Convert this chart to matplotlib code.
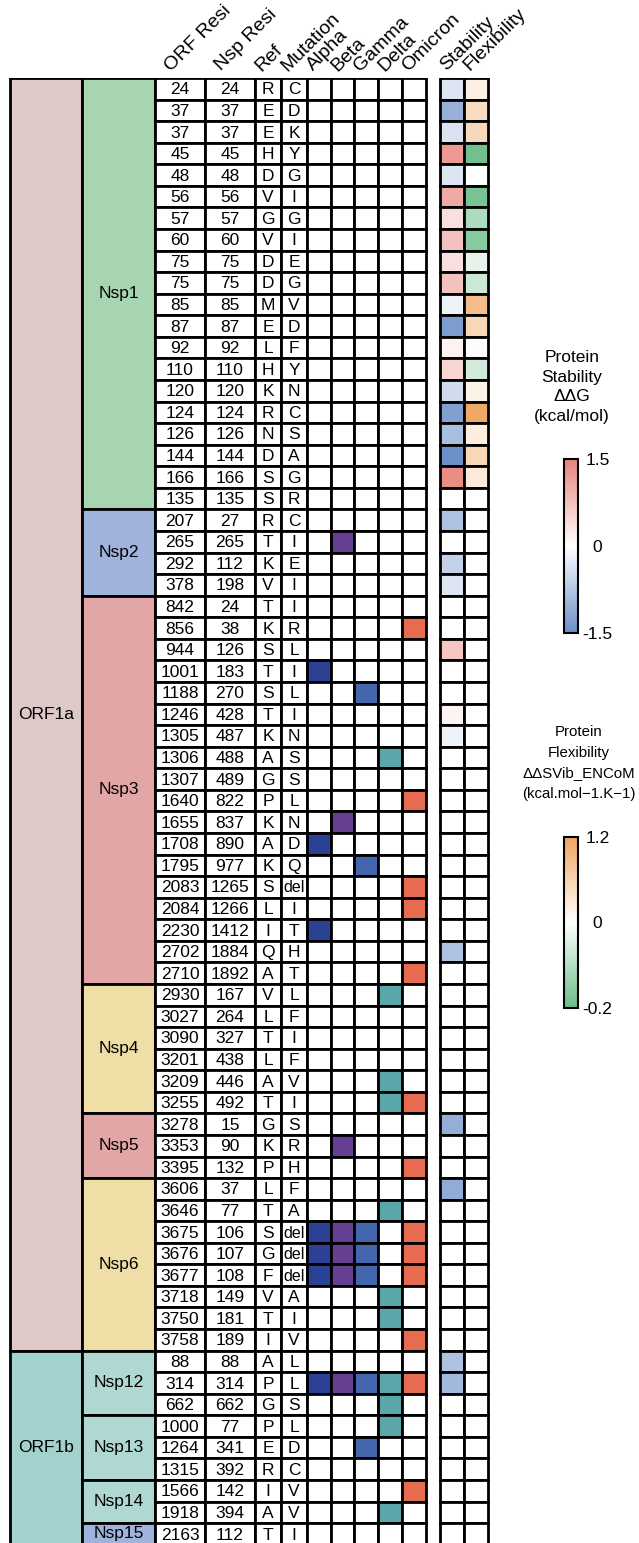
import numpy as np
import matplotlib
matplotlib.use("Agg")
import matplotlib.pyplot as plt
from matplotlib.patches import Rectangle
from matplotlib.colors import LinearSegmentedColormap, TwoSlopeNorm
from matplotlib.cm import ScalarMappable

plt.rcParams['font.family'] = ['Liberation Sans', 'DejaVu Sans']

# ---- data ----
orf_names = ["ORF1a", "ORF1b"]
orf_sizes = [59, 9]
nsp_names = ["Nsp1", "Nsp2", "Nsp3", "Nsp4", "Nsp5", "Nsp6", "Nsp12", "Nsp13", "Nsp14", "Nsp15"]
nsp_sizes = [20, 4, 18, 6, 3, 8, 3, 3, 2, 1]

orf_resi = [24, 37, 37, 45, 48, 56, 57, 60, 75, 75, 85, 87, 92, 110, 120, 124, 126, 144, 166, 135,
            207, 265, 292, 378,
            842, 856, 944, 1001, 1188, 1246, 1305, 1306, 1307, 1640, 1655, 1708, 1795, 2083, 2084, 2230, 2702, 2710,
            2930, 3027, 3090, 3201, 3209, 3255,
            3278, 3353, 3395,
            3606, 3646, 3675, 3676, 3677, 3718, 3750, 3758,
            88, 314, 662,
            1000, 1264, 1315,
            1566, 1918,
            2163]
nsp_resi = [24, 37, 37, 45, 48, 56, 57, 60, 75, 75, 85, 87, 92, 110, 120, 124, 126, 144, 166, 135,
            27, 265, 112, 198,
            24, 38, 126, 183, 270, 428, 487, 488, 489, 822, 837, 890, 977, 1265, 1266, 1412, 1884, 1892,
            167, 264, 327, 438, 446, 492,
            15, 90, 132,
            37, 77, 106, 107, 108, 149, 181, 189,
            88, 314, 662,
            77, 341, 392,
            142, 394,
            112]
ref = list("REEHDVGVDDMELHKRNDSS" + "RTKV" + "TKSTSTKAGPKAKSLIQA" + "VLTLAT" + "GKP"
           + "LTSGFVTI" + "APG" + "PER" + "IA" + "T")
mut = (list("CDKYGIGIEGVDFYNCSAGR") + list("CIEI")
       + ["I", "R", "L", "I", "L", "I", "N", "S", "S", "L", "N", "D", "Q", "del", "I", "T", "H", "T"]
       + list("LFIFVI") + list("SRH") + ["F", "A", "del", "del", "del", "A", "I", "V"]
       + list("LLS") + list("LDC") + list("VV") + ["I"])

variants = ["Alpha", "Beta", "Gamma", "Delta", "Omicron"]
variant_keys = ["A", "B", "G", "D", "O"]
# letters of the variants carrying each mutation
present = ([""] * 20
           + ["", "B", "", ""]
           + ["", "O", "", "A", "G", "", "", "D", "", "O", "B", "A", "G", "O", "O", "A", "", "O"]
           + ["D", "", "", "", "D", "DO"]
           + ["", "B", "O"]
           + ["", "D", "ABGO", "ABGO", "ABGO", "D", "D", "O"]
           + ["", "ABGDO", "D"]
           + ["D", "G", ""]
           + ["O", "D"]
           + [""])

N = None
stability = ([-0.35, -1.03, -0.38, 1.21, -0.35, 1.03, 0.37, 0.73, 0.37, 0.73,
              -0.17, -1.29, 0.16, 0.51, -0.47, -1.26, -0.85, -1.47, 1.37, N]
             + [-0.82, N, -0.61, -0.35]
             + [N, N, 0.67, N, N, 0.15, -0.17, N, N, N, N, N, N, N, N, N, -0.82, N]
             + [N] * 6
             + [-1.07, N, N]
             + [-1.09] + [N] * 7
             + [-0.82, -0.93, N]
             + [N] * 3 + [N] * 2 + [N])
flexibility = ([0.2, 0.47, 0.52, -0.19, 0.0, -0.18, -0.11, -0.16, -0.035, -0.07,
                0.88, 0.53, -0.005, -0.06, 0.17, 1.16, 0.24, 0.54, 0.29, N]
               + [N] * 48)

# ---- style ----
orf_colors = {"ORF1a": "#dec8c8", "ORF1b": "#a2d2ce"}
nsp_colors = {"Nsp1": "#a7d4b1", "Nsp2": "#9fb3dc", "Nsp3": "#e2a6a6", "Nsp4": "#efdea5",
              "Nsp5": "#e2a6a6", "Nsp6": "#efdea5", "Nsp12": "#afd8d3", "Nsp13": "#afd8d3",
              "Nsp14": "#afd8d3", "Nsp15": "#9fb3dc"}
var_colors = {"A": "#2b4196", "B": "#653f92", "G": "#4366ad", "D": "#5ba6a9", "O": "#e66b50"}
stab_cmap = LinearSegmentedColormap.from_list("stab", ["#6a8ec8", "#ffffff", "#e8837a"])
flex_cmap = LinearSegmentedColormap.from_list("flex", ["#6abd88", "#ffffff", "#f0a561"])
stab_norm = TwoSlopeNorm(vmin=-1.5, vcenter=0, vmax=1.5)
flex_norm = TwoSlopeNorm(vmin=-0.2, vcenter=0, vmax=1.2)

W, H = 639, 1543
TOP, ROW_H = 78, 21.57
LW = 2.0
col = {"orf": (10, 82), "nsp": (82, 155), "orfres": (155, 205), "nspres": (205, 255),
       "ref": (255, 281), "mut": (281, 307),
       "A": (307, 331), "B": (331, 354), "G": (354, 378), "D": (378, 402), "O": (402, 426),
       "stab": (440, 464), "flex": (464, 488)}

fig = plt.figure(figsize=(W / 100, H / 100), dpi=100)
ax = fig.add_axes([0, 0, 1, (H - TOP) / H])
ax.set_xlim(0, W)
ax.set_ylim((H - TOP) / ROW_H, 0)
ax.axis("off")


def cell(key, y0, nrows, fc):
    x0, x1 = col[key]
    ax.add_patch(Rectangle((x0, y0), x1 - x0, nrows, facecolor=fc, edgecolor="black", lw=LW))


# ORF and Nsp blocks
start = 0
for name, n in zip(orf_names, orf_sizes):
    cell("orf", start, n, orf_colors[name])
    ax.text(np.mean(col["orf"]), start + n / 2, name, ha="center", va="center", fontsize=12.5)
    start += n
start = 0
for name, n in zip(nsp_names, nsp_sizes):
    cell("nsp", start, n, nsp_colors[name])
    ax.text(np.mean(col["nsp"]), start + n / 2, name, ha="center", va="center", fontsize=12.5)
    start += n

# table rows
for i in range(len(orf_resi)):
    for key, txt in [("orfres", orf_resi[i]), ("nspres", nsp_resi[i]), ("ref", ref[i]), ("mut", mut[i])]:
        cell(key, i, 1, "white")
        fs = 11.5 if txt == "del" else 12.5
        ax.text(np.mean(col[key]), i + 0.55, str(txt), ha="center", va="center", fontsize=fs)
    for k in variant_keys:
        cell(k, i, 1, var_colors[k] if k in present[i] else "white")
    s = stability[i]
    f = flexibility[i]
    cell("stab", i, 1, "white" if s is None else stab_cmap(stab_norm(s)))
    cell("flex", i, 1, "white" if f is None else flex_cmap(flex_norm(f)))

# rotated headers
headers = [("orfres", "ORF Resi"), ("nspres", "Nsp Resi"), ("ref", "Ref"), ("mut", "Mutation")]
headers += list(zip(variant_keys, variants))
headers += [("stab", "Stability"), ("flex", "Flexibility")]
for key, label in headers:
    x0, x1 = col[key]
    off = 16 if x1 - x0 > 40 else 6
    ax.text(x0 + off, -0.3, label, rotation=45, rotation_mode="anchor",
            ha="left", va="baseline", fontsize=14)

# colorbars
def add_cbar(cmap, norm, ticks, labels, ytop, ybot, title, tx, ty, tfs, ls):
    cax = fig.add_axes([564 / W, 1 - ybot / H, 14 / W, (ybot - ytop) / H])
    cb = fig.colorbar(ScalarMappable(norm=norm, cmap=cmap), cax=cax)
    cb.set_ticks(ticks)
    cb.set_ticklabels(labels)
    cb.outline.set_linewidth(1.5)
    cax.tick_params(length=0, pad=14, labelsize=12.5)
    for t in cax.get_yticklabels():
        t.set_ha("center")
    fig.text(tx / W, 1 - ty / H, title, ha="center", va="center", fontsize=tfs, linespacing=ls)


add_cbar(stab_cmap, stab_norm, [-1.5, 0, 1.5], ["-1.5", "0", "1.5"], 459, 633,
         "Protein\nStability\nΔΔG\n(kcal/mol)", 572, 387, 12.5, 1.4)
add_cbar(flex_cmap, flex_norm, [-0.2, 0, 1.2], ["-0.2", "0", "1.2"], 837, 1008,
         "Protein\nFlexibility\nΔΔSVib_ENCoM\n(kcal.mol\u22121.K\u22121)", 579, 763, 10.8, 1.6)

fig.savefig("out.png", dpi=100)
